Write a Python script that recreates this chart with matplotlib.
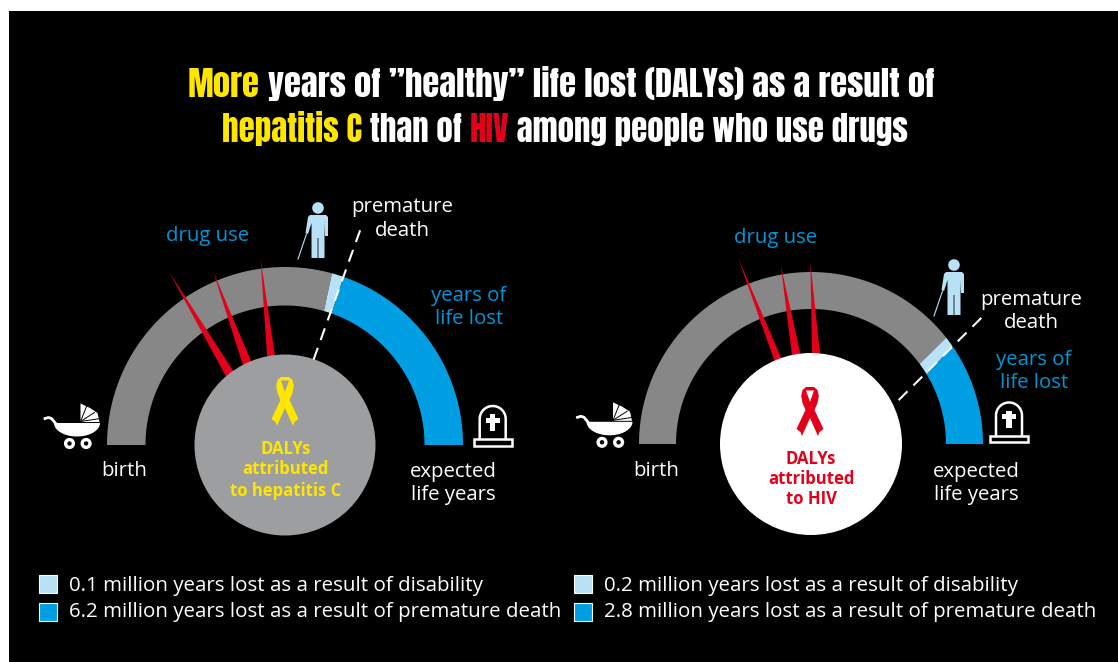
import matplotlib
matplotlib.use("Agg")
import matplotlib.pyplot as plt
import numpy as np
from matplotlib.patches import Circle, Polygon, Rectangle, PathPatch
from matplotlib.path import Path

# values
disability_years = [0.1, 0.2]
death_years = [6.2, 2.8]
legend_disability = "{} million years lost as a result of disability"
legend_death = "{} million years lost as a result of premature death"

title_line1 = [("More", "yellow"), (' years of ”healthy” life lost (DALYs) as a result of', "white")]
title_line2 = [("hepatitis C", "yellow"), (" than of ", "white"), ("HIV", "red"), (" among people who use drugs", "white")]

# angles on the arc in degrees, 180 = birth, 0 = expected life years
# (outer edge, inner edge)
grey_end = [(74.7, 73.8), (38.2, 36.4)]
blue_start = [(70.8, 70.5), (34.6, 31.0)]

# needles: base angle, half width, tip angle, tip radius
needles_hcv = [(128, 3.0, 123.8, 208), (115, 3.0, 112.5, 188), (99, 2.6, 97.5, 187)]
needles_hiv = [(111.4, 2.4, 111.4, 200), (99.4, 2.8, 99.6, 181), (86.7, 2.6, 90.2, 182)]

COLORS = {"grey": "#878787", "light": "#b9e1f5", "blue": "#009fe3", "text_blue": "#0095d6",
          "yellow": "#ffe600", "red": "#e2001a", "white": "white", "circle": "#9d9e9f"}

# Anton is not on the guaranteed font list, the listed family is the fallback
TITLE_FONT = ["Anton", "Liberation Sans", "DejaVu Sans"]
BODY_FONT = ["Open Sans", "DejaVu Sans"]

fig = plt.figure(figsize=(11.18, 6.62), dpi=100, facecolor="white")
ax = fig.add_axes([0, 0, 1, 1])
ax.set_xlim(0, 1118)
ax.set_ylim(662, 0)
ax.axis("off")
ax.add_patch(Rectangle((9, 11), 1109, 651, color="black", lw=0, zorder=0))


def polar(cx, cy, r, deg):
    a = np.radians(deg)
    return cx + r * np.cos(a), cy - r * np.sin(a)


def band(cx, cy, R, r, start, end, color, z=2):
    # start and end are (outer angle, inner angle)
    outer = np.linspace(start[0], end[0], 120)
    inner = np.linspace(end[1], start[1], 120)
    pts = [polar(cx, cy, R, a) for a in outer] + [polar(cx, cy, r, a) for a in inner]
    ax.add_patch(Polygon(pts, closed=True, color=color, lw=0, zorder=z))


def label(x, y, s, color="white", size=14.7, weight="normal"):
    ax.text(x, y + 1.5, s, color=color, fontsize=size, fontweight=weight, family=BODY_FONT,
            ha="center", va="center", linespacing=1.22, zorder=7)


def ribbon(cx, top, color):
    right = [(0, 0), (4, 0), (7.5, 3), (8.8, 9), (7.5, 16), (4.5, 23), (13.5, 42), (9.5, 45), (8, 49), (0, 31)]
    outer = right + [(-x, y) for x, y in right[-2:0:-1]]
    hole = [(-4, 3.5), (0, 15), (4, 3.5)]
    verts = [(cx + x, top + y) for x, y in outer + [outer[0]] + hole + [hole[0]]]
    codes = ([Path.MOVETO] + [Path.LINETO] * (len(outer) - 1) + [Path.CLOSEPOLY]
             + [Path.MOVETO] + [Path.LINETO] * 2 + [Path.CLOSEPOLY])
    ax.add_patch(PathPatch(Path(verts, codes), fc=color, ec="none", zorder=6))


def person(x, y):
    c = COLORS["light"]
    ax.add_patch(Circle((x, y), 5.8, color=c, lw=0, zorder=5))
    body = [(x - 8, y + 7), (x + 8, y + 7), (x + 10, y + 9), (x + 10, y + 28), (x + 7, y + 28),
            (x + 6.5, y + 15), (x + 6.5, y + 50), (x + 0.4, y + 50), (x + 0.4, y + 30), (x - 0.4, y + 30),
            (x - 0.4, y + 50), (x - 6.5, y + 50), (x - 6.5, y + 15), (x - 10, y + 26), (x - 12.5, y + 25),
            (x - 10, y + 9)]
    ax.add_patch(Polygon(body, closed=True, color=c, lw=0, zorder=5))
    ax.plot([x - 11.5, x - 20], [y + 26, y + 51], color=c, lw=0.8, zorder=5)


def pram(x, y):
    # x, y is the left wheel centre
    ax.plot([x - 24.5, x - 21, x - 18, x - 13], [y - 25, y - 26, y - 25, y - 19], color="white", lw=2, zorder=5)
    t = np.linspace(np.pi, 0, 30)
    bowl = [(7.5 + 23 * np.cos(a), -20.5 + 13.5 * np.sin(a)) for a in t]
    ax.add_patch(Polygon(np.array(bowl) + [x, y], closed=True, color="white", lw=0, zorder=5))
    hood = np.array([(11, -40), (20.5, -35.5), (28, -30.5), (30, -21.5), (11, -21.5)])
    ax.add_patch(Polygon(hood + [x, y], closed=True, color="white", lw=0, zorder=5))
    for end in [(17, -37), (25, -31), (31, -25)]:
        ax.plot([x + 11, x + end[0]], [y - 22, y + end[1]], color="black", lw=0.7, zorder=6)
    for dx in [0, 16.6]:
        ax.add_patch(Circle((x + dx, y), 3.9, fc="black", ec="white", lw=2.4, zorder=5))


def grave(x, y):
    # x, y is the centre of the bottom edge of the plinth
    ax.add_patch(Rectangle((x - 19, y - 7), 38, 6.5, fc="black", ec="white", lw=1.8, zorder=5))
    t = np.linspace(0, np.pi, 40)
    sx = list(x + 13 * np.cos(t))
    sy = list(y - 27 - 13 * np.sin(t))
    ax.plot([x + 13] + sx + [x - 13], [y - 7] + sy + [y - 7], color="white", lw=1.8, zorder=5)
    ax.add_patch(Rectangle((x - 2.7, y - 32), 5.4, 17, color="white", lw=0, zorder=5))
    ax.add_patch(Rectangle((x - 7, y - 28.5), 14, 5, color="white", lw=0, zorder=5))


def meter(cx, cy, R, r, cr, grey, blue, needles, circle_color, dash):
    band(cx, cy, R, r, (180, 180), grey, COLORS["grey"])
    band(cx, cy, R, r, grey, blue, COLORS["light"])
    band(cx, cy, R, r, blue, (0, 0), COLORS["blue"])
    for base, half, tip, tip_r in needles:
        pts = [polar(cx, cy, cr - 2, base - half), polar(cx, cy, cr - 2, base + half), polar(cx, cy, tip_r, tip)]
        ax.add_patch(Polygon(pts, closed=True, color=COLORS["red"], lw=0, zorder=3))
    ax.add_patch(Circle((cx, cy), cr, color=circle_color, lw=0, zorder=4))
    p0 = polar(cx, cy, dash[0][1], dash[0][0])
    p1 = polar(cx, cy, dash[1][1], dash[1][0])
    ax.plot([p0[0], p1[0]], [p0[1], p1[1]], color="white", lw=1.5, ls=(0, (6, 4)), zorder=5)


def text_width(s, size):
    renderer = fig.canvas.get_renderer()
    probe = ax.text(0, 0, s.replace(" ", "\u00a0"), fontsize=size, family=TITLE_FONT)
    w = probe.get_window_extent(renderer).width
    probe.remove()
    return w


def title_line(parts, cx, y, width):
    # font size fitted to the width of the line
    size = 30 * width / sum(text_width(s, 30) for s, c in parts)
    x = cx - width / 2
    for s, c in parts:
        ax.text(x, y, s.replace(" ", "\u00a0"), color=COLORS[c], fontsize=size, family=TITLE_FONT,
                ha="left", va="baseline", zorder=7)
        x += text_width(s, size)


# left gauge, hepatitis C
meter(285, 445, 178, 139.5, 90.5, grey_end[0], blue_start[0], needles_hcv, COLORS["circle"],
      ((71.5, 90), (70.7, 232)))
ribbon(285, 377, COLORS["yellow"])
label(285.5, 447, "DALYs", COLORS["yellow"], 12, "bold")
label(285.5, 468, "attributed", COLORS["yellow"], 12, "bold")
label(285.5, 490, "to hepatitis C", COLORS["yellow"], 12, "bold")
label(208, 235, "drug use", COLORS["text_blue"])
label(402, 217.5, "premature\ndeath")
label(469, 306, "years of\nlife lost", COLORS["text_blue"])
label(124, 470, "birth")
label(453, 482, "expected\nlife years")
person(318, 208)
pram(69.5, 443.5)
grave(492.7, 446)

# right gauge, HIV
meter(811, 444, 172, 135, 91, grey_end[1], blue_start[1], needles_hiv, COLORS["white"],
      ((26.6, 98), (36.6, 214)))
ribbon(810, 387, COLORS["red"])
label(811, 457, "DALYs", COLORS["red"], 12, "bold")
label(811, 478, "attributed", COLORS["red"], 12, "bold")
label(811, 498, "to HIV", COLORS["red"], 12, "bold")
label(776, 236, "drug use", COLORS["text_blue"])
label(1031, 310, "premature\ndeath")
label(1034, 370, "years of\nlife lost", COLORS["text_blue"])
label(656, 470, "birth")
label(976, 482, "expected\nlife years")
person(954, 265)
pram(602, 442.3)
grave(1009, 442.5)

# title
title_line(title_line1, 560.5, 97, 745)
title_line(title_line2, 565, 142, 686)

# legend
for x0, tx, v1, v2 in zip([39, 574], [69, 604], disability_years, death_years):
    ax.add_patch(Rectangle((x0, 575), 17.5, 17.5, fc=COLORS["light"], ec="white", lw=0.8, zorder=5))
    ax.add_patch(Rectangle((x0, 603), 17.5, 17.5, fc=COLORS["blue"], ec="white", lw=0.8, zorder=5))
    ax.text(tx, 585.5, legend_disability.format(v1), color="white", fontsize=14.76, family=BODY_FONT, va="center")
    ax.text(tx, 612.5, legend_death.format(v2), color="white", fontsize=14.76, family=BODY_FONT, va="center")

fig.savefig("out.png", dpi=100, facecolor="white")
